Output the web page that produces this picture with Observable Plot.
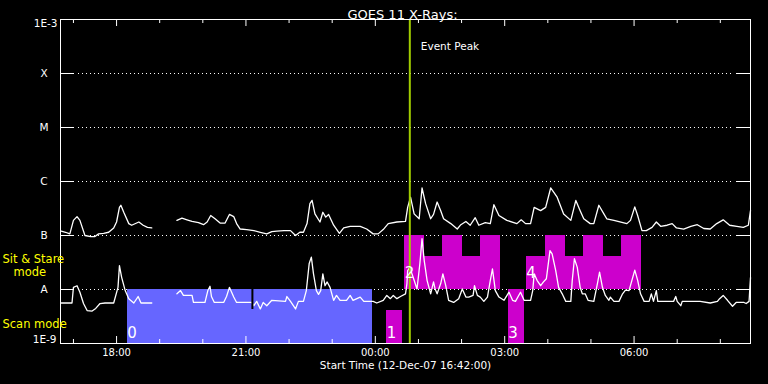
<!DOCTYPE html>
<html><head><meta charset="utf-8">
<script src="https://cdn.jsdelivr.net/npm/d3@7"></script>
<script src="https://cdn.jsdelivr.net/npm/@observablehq/plot@0.6"></script>
<style>html,body{margin:0;padding:0;background:#000;overflow:hidden;}</style>
</head><body><div id="chart"></div>
<script>
// ---- Data (times in minutes after start 12-Dec-07 16:42:00 UT; flux as log10 W/m^2) ----
const startTime = Date.UTC(2007, 11, 12, 16, 42);
const endTime = Date.UTC(2007, 11, 13, 8, 42);
const titleText = "GOES 11 X-Rays:";
const xAxisTitle = "Start Time (12-Dec-07 16:42:00)";
const eventPeakMin = 486;
const eventPeakLabel = "Event Peak";

const levelValues = [-9, -8, -7, -6, -5, -4, -3];
const levelLabels = ["1E-9", "A", "B", "C", "M", "X", "1E-3"];

// Long channel (1-8 A)
const longMin = [1,7,13,18,23,27,34,42,48,53,60,67,74,78,82,84,88,95,99,109,115,121,127,145,162,169,176,183,192,199,204,209,215,222,229,235,241,245,250,259,269,278,287,294,301,311,320,327,333,338,343,347,350,354,361,365,369,373,380,388,394,403,417,426,435,442,449,456,468,480,483,487,492,499,503,508,515,519,524,529,533,543,552,557,564,570,577,582,591,598,603,610,621,635,641,647,654,659,668,675,682,691,700,710,717,723,728,737,742,749,756,760,770,788,793,799,803,809,815,823,829,835,844,851,857,867,877,886,895,904,913,922,931,941,950,957,960];
const longLog = [-6.92,-6.94,-6.97,-6.72,-6.65,-6.72,-7.00,-7.02,-7.02,-6.97,-6.96,-6.94,-6.86,-6.75,-6.48,-6.44,-6.57,-6.78,-6.81,-6.75,-6.81,-6.85,-6.86,null,-6.72,-6.68,-6.71,-6.74,-6.76,-6.80,-6.75,-6.63,-6.69,-6.77,-6.77,-6.61,-6.65,-6.78,-6.88,-6.89,-6.91,-6.94,-6.97,-6.93,-6.92,-6.91,-6.91,-7.00,-6.94,-6.94,-6.78,-6.41,-6.35,-6.60,-6.75,-6.57,-6.66,-6.61,-6.81,-6.96,-6.86,-6.83,-6.83,-6.88,-6.97,-6.97,-6.89,-6.78,-6.75,-6.74,-6.48,-6.29,-6.60,-6.69,-6.12,-6.41,-6.69,-6.61,-6.38,-6.54,-6.69,-6.78,-6.88,-6.80,-6.74,-6.81,-6.67,-6.81,-6.76,-6.78,-6.43,-6.63,-6.72,-6.78,-6.71,-6.78,-6.78,-6.48,-6.54,-6.48,-6.12,-6.29,-6.60,-6.72,-6.35,-6.54,-6.69,-6.78,-6.78,-6.44,-6.60,-6.69,-6.72,-6.78,-6.72,-6.47,-6.63,-6.91,-6.91,-6.85,-6.75,-6.83,-6.81,-6.78,-6.86,-6.88,-6.83,-6.80,-6.87,-6.88,-6.78,-6.71,-6.81,-6.83,-6.85,-6.81,-6.54];

// Short channel (0.5-4 A)
const shortMin = [1,16,18,23,27,32,37,44,49,55,62,74,80,82,85,90,95,102,108,112,127,145,162,167,171,183,185,201,205,208,210,214,227,231,235,241,245,266,269,273,278,282,287,294,313,315,320,327,331,338,342,346,349,352,356,359,362,365,368,371,375,380,384,389,398,403,407,417,422,435,440,449,454,459,463,468,473,480,482,483,486,492,496,500,503,506,510,515,519,521,524,529,532,536,540,547,554,559,564,568,574,576,580,584,589,594,598,601,605,610,617,624,629,633,640,645,654,657,659,663,668,672,676,681,684,689,693,698,703,710,712,715,719,723,726,730,734,742,747,750,754,758,763,765,770,777,782,786,791,795,799,803,807,812,819,822,825,829,831,844,853,856,858,863,865,890,904,914,917,922,928,935,940,951,954,958,960];
const shortLog = [-8.25,-8.25,-7.96,-7.93,-8.05,-8.26,-8.39,-8.40,-8.35,-8.26,-8.25,-8.25,-7.96,-7.56,-7.77,-8.02,-8.17,-8.25,-8.13,-8.25,-8.25,null,-8.08,-8.02,-8.11,-8.11,-8.24,-8.24,-8.02,-7.94,-8.13,-8.24,-8.24,-8.13,-7.96,-8.14,-8.24,-8.24,-8.30,-8.22,-8.36,-8.24,-8.30,-8.20,-8.22,-8.13,-8.22,-8.36,-8.22,-8.22,-8.02,-7.52,-7.40,-7.71,-8.02,-8.09,-8.02,-7.71,-7.93,-7.86,-7.96,-8.20,-8.11,-8.20,-8.20,-8.11,-8.20,-8.14,-8.22,-8.22,-8.25,-8.20,-8.11,-8.17,-8.11,-8.17,-8.13,-8.08,-7.89,-7.65,-7.59,-7.83,-7.99,-7.52,-7.06,-7.46,-7.83,-8.08,-7.86,-7.98,-8.08,-7.89,-7.71,-7.93,-8.20,-8.24,-8.17,-7.99,-8.14,-8.14,-8.11,-7.93,-8.11,-8.14,-8.22,-8.14,-7.83,-7.62,-8.02,-8.14,-8.20,-8.05,-8.20,-8.22,-8.05,-8.20,-8.20,-8.02,-7.71,-7.83,-7.93,-7.86,-7.80,-7.28,-7.34,-7.65,-7.96,-8.08,-8.22,-8.22,-7.83,-7.43,-7.59,-7.96,-8.08,-8.08,-8.20,-8.22,-7.89,-7.68,-7.96,-8.11,-8.20,-8.14,-8.22,-8.22,-8.08,-8.01,-8.02,-7.83,-7.64,-7.83,-8.08,-8.22,-8.22,-8.08,-8.22,-8.02,-8.22,-8.22,-8.22,-8.13,-8.22,-8.30,-8.22,-8.22,-8.25,-8.22,-8.17,-8.11,-8.20,-8.31,-8.24,-8.24,-8.26,-8.22,-7.78];

// Short data dropout marker
const dropoutMin = [267];
const dropoutTop = [-8.0];
const dropoutBottom = [-8.37];

// Scan-mode pointings
const scanLabels = ["0", "1", "3"];
const scanStart = [93, 454, 623];
const scanEnd = [434, 476, 646];
const scanTop = [-8.0, -8.39, -8.0];
const scanColor = ["#6666ff", "#cc00cc", "#cc00cc"];
const scanLabelY = [-8.81, -8.81, -8.81];

// Sit & Stare pointings
const stareStart = [479, 506, 531, 559, 584, 648, 675, 703, 728, 755, 781];
const stareEnd =   [506, 531, 559, 584, 612, 675, 703, 728, 755, 781, 808];
const stareTop =   [-7.0, -7.39, -7.0, -7.39, -7.0, -7.39, -7.0, -7.39, -7.0, -7.39, -7.0];
const stareLabels = ["2", "4"];
const stareLabelStart = [479, 648];
const stareLabelY = [-7.69, -7.69];

// Mode names (left margin, yellow)
const modeNamesA = ["Sit & Stare", "Scan mode"];
const modeNamesAY = [-7.444, -8.648];
const modeNamesB = ["mode"];
const modeNamesBY = [-7.676];

// ---- Build ----
const toDate = m => new Date(startTime + m * 60000);
const longData = longMin.map((m, i) => ({t: toDate(m), v: longLog[i]}));
const shortData = shortMin.map((m, i) => ({t: toDate(m), v: shortLog[i]}));
const scanData = scanStart.map((s, i) => ({x1: toDate(s), x2: toDate(scanEnd[i]), top: scanTop[i], color: scanColor[i], label: scanLabels[i], ly: scanLabelY[i]}));
const stareData = stareStart.map((s, i) => ({x1: toDate(s), x2: toDate(stareEnd[i]), top: stareTop[i]}));
const stareLabelData = stareLabels.map((l, i) => ({x: toDate(stareLabelStart[i]), y: stareLabelY[i], label: l}));
const dropoutData = dropoutMin.map((m, i) => ({t: toDate(m), y1: dropoutTop[i], y2: dropoutBottom[i]}));
const levels = levelValues.map((v, i) => ({v, label: levelLabels[i]}));
const innerLevels = levels.filter(d => d.v > -9 && d.v < -3);
const modeA = modeNamesA.map((n, i) => ({n, y: modeNamesAY[i]}));
const modeB = modeNamesB.map((n, i) => ({n, y: modeNamesBY[i]}));
const hours = d3.utcHour.range(new Date(startTime), new Date(endTime + 1));
const majorHours = hours.filter(d => d.getUTCHours() % 3 === 0);
const minorHours = hours.filter(d => d.getUTCHours() % 3 !== 0);
const eventPeak = toDate(eventPeakMin);
const fmt = d3.utcFormat("%H:%M");
const FONT = "'DejaVu Sans', sans-serif";

const chart = Plot.plot({
  width: 768, height: 384,
  marginLeft: 60, marginRight: 18, marginTop: 19, marginBottom: 41,
  style: {background: "#000", color: "#fff", fontFamily: FONT},
  x: {type: "utc", domain: [new Date(startTime), new Date(endTime)], axis: null},
  y: {domain: [-9, -3], axis: null},
  marks: [
    Plot.tickY(innerLevels, {y: "v", stroke: "#fff", strokeWidth: 1, strokeDasharray: "1,3", insetLeft: 18, insetRight: 16}),
    Plot.rect(scanData, {x1: "x1", x2: "x2", y1: -9, y2: "top", fill: "color", shapeRendering: "crispEdges"}),
    Plot.rect(stareData, {x1: "x1", x2: "x2", y1: -8, y2: "top", fill: "#cc00cc", shapeRendering: "crispEdges"}),
    Plot.line(longData, {x: "t", y: "v", stroke: "#fff", strokeWidth: 1.3}),
    Plot.line(shortData, {x: "t", y: "v", stroke: "#fff", strokeWidth: 1.3}),
    Plot.ruleX(dropoutData, {x: "t", y1: "y1", y2: "y2", stroke: "#000", strokeWidth: 2}),
    Plot.ruleX([eventPeak], {stroke: "#a0cc00", strokeWidth: 2}),
    Plot.text([eventPeakLabel], {x: () => eventPeak, frameAnchor: "top", dy: 23.5, dx: 11, textAnchor: "start", fill: "#fff", fontSize: 10.5, text: d => d}),
    Plot.text(scanData, {x: "x1", y: "ly", text: "label", textAnchor: "start", fill: "#fff", fontSize: 15}),
    Plot.text(stareLabelData, {x: "x", y: "y", text: "label", textAnchor: "start", fill: "#fff", fontSize: 15}),
    Plot.tickY(innerLevels, {y: "v", stroke: "#fff", insetRight: 676}),
    Plot.tickY(innerLevels, {y: "v", stroke: "#fff", insetLeft: 676}),
    Plot.tickX(majorHours, {x: d => d, stroke: "#fff", insetTop: 317}),
    Plot.tickX(minorHours, {x: d => d, stroke: "#fff", insetTop: 320}),
    Plot.tickX(majorHours, {x: d => d, stroke: "#fff", insetBottom: 317}),
    Plot.tickX(minorHours, {x: d => d, stroke: "#fff", insetBottom: 320}),
    Plot.frame({stroke: "#fff"}),
    Plot.text(innerLevels, {y: "v", text: "label", frameAnchor: "left", dx: -16.5, textAnchor: "middle", fill: "#fff", fontSize: 10.5}),
    Plot.text(levels.filter(d => d.v === -3), {y: "v", text: "label", frameAnchor: "left", dx: -3, dy: 4, textAnchor: "end", fill: "#fff", fontSize: 10.5}),
    Plot.text(levels.filter(d => d.v === -9), {y: "v", text: "label", frameAnchor: "left", dx: -4, dy: -3.5, textAnchor: "end", fill: "#fff", fontSize: 10.5}),
    Plot.text(modeA, {y: "y", text: "n", frameAnchor: "left", dx: -58, textAnchor: "start", fill: "#ffff00", fontSize: 11.5}),
    Plot.text(modeB, {y: "y", text: "n", frameAnchor: "left", dx: -47, textAnchor: "start", fill: "#ffff00", fontSize: 11.5}),
    Plot.text(majorHours, {x: d => d, frameAnchor: "bottom", dy: 12.5, text: d => fmt(d), fill: "#fff", fontSize: 10}),
    Plot.text([xAxisTitle], {frameAnchor: "bottom", dy: 25, text: d => d, fill: "#fff", fontSize: 10.5}),
    Plot.text([titleText], {frameAnchor: "top", dy: -9.5, dx: -3, text: d => d, fill: "#fff", fontSize: 13})
  ]
});
document.getElementById("chart").appendChild(chart);
</script>
</body></html>
